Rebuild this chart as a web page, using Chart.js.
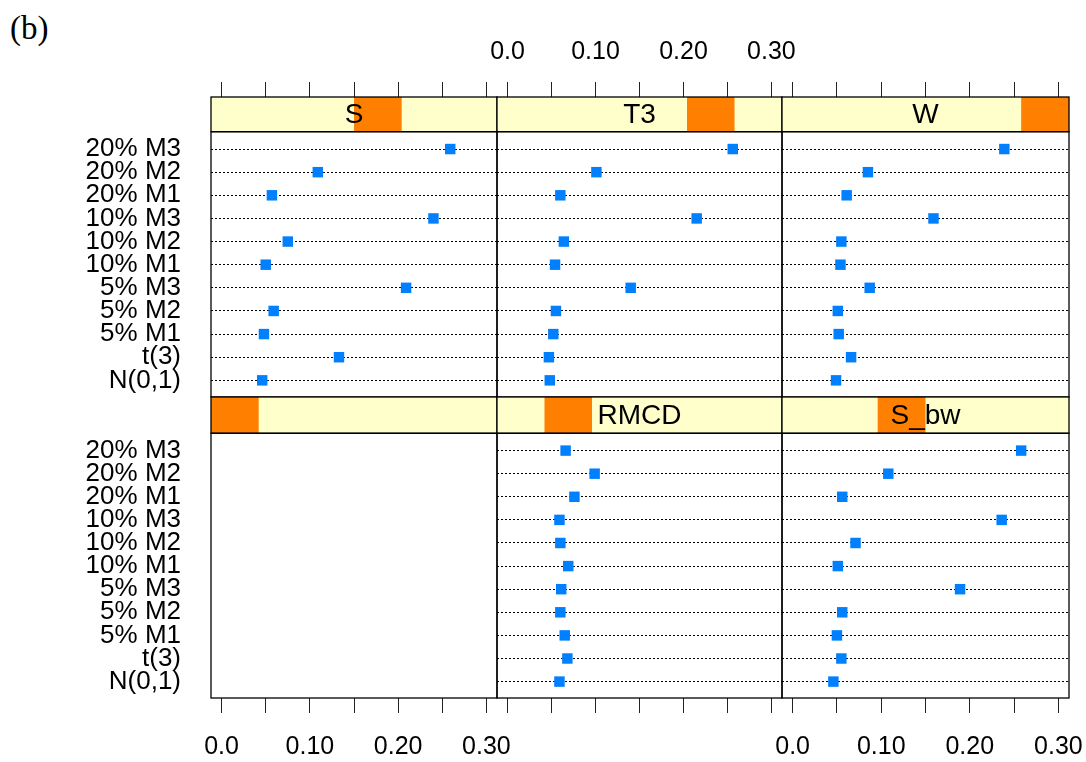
<!DOCTYPE html>
<html>
<head>
<meta charset="utf-8">
<script src="https://cdn.jsdelivr.net/npm/chart.js@4.4.1/dist/chart.umd.min.js"></script>
<style>
  html, body { margin: 0; padding: 0; background: #fff; }
  #wrap { position: relative; width: 1086px; height: 762px; overflow: hidden; }
  #wrap canvas { position: absolute; }
  #tag { position: absolute; left: 10px; top: 10px; line-height: 1; font: 33px "Liberation Serif", "DejaVu Serif", serif; }
</style>
</head>
<body>
<div id="wrap"><div id="tag">(b)</div></div>
<script>
// rows, bottom to top
const rowLabels = ['N(0,1)', 't(3)', '5% M1', '5% M2', '5% M3', '10% M1', '10% M2', '10% M3', '20% M1', '20% M2', '20% M3'];
// strip levels in lattice order (bottom-left first)
const stripLevels = ['', 'RMCD', 'S_bw', 'S', 'T3', 'W'];

const valS    = [0.046, 0.133, 0.048, 0.059, 0.209, 0.050, 0.075, 0.240, 0.057, 0.109, 0.259];
const valT3   = [0.048, 0.047, 0.052, 0.055, 0.140, 0.054, 0.064, 0.215, 0.060, 0.101, 0.256];
const valW    = [0.049, 0.066, 0.052, 0.051, 0.087, 0.054, 0.055, 0.159, 0.061, 0.085, 0.239];
const valRMCD = [0.059, 0.068, 0.065, 0.060, 0.061, 0.069, 0.060, 0.059, 0.076, 0.099, 0.066];
const valSbw  = [0.046, 0.055, 0.050, 0.056, 0.189, 0.051, 0.071, 0.236, 0.056, 0.108, 0.258];

const xTicks = [0, 0.05, 0.10, 0.15, 0.20, 0.25, 0.30];
const xTickLabels = ['0.0', '', '0.10', '', '0.20', '', '0.30'];

const FONT = '"Liberation Sans", Arial, sans-serif';
const PANEL_TOP = 11.75;   // y value where strip ends and panel begins

// panel layout (pixels)
const colLeft = [211, 497, 782];
const colRight = [497, 782, 1069];
const rowGeo = [
  { top: 0,   height: 399, pos: 'top',    axisH: 97, padT: 0, padB: 2, yMin: 0.28, yMax: 13.25, lblPad: 15 },
  { top: 395, height: 367, pos: 'bottom', axisH: 64, padT: 2, padB: 0, yMin: 0.29, yMax: 13.32, lblPad: 19 }
];

const panels = [
  { level: 3, values: valS,    row: 0, col: 0 },
  { level: 4, values: valT3,   row: 0, col: 1 },
  { level: 5, values: valW,    row: 0, col: 2 },
  { level: 0, values: null,    row: 1, col: 0 },
  { level: 1, values: valRMCD, row: 1, col: 1 },
  { level: 2, values: valSbw,  row: 1, col: 2 }
];

const stripPlugin = {
  id: 'strip',
  beforeDraw(chart, args, opts) {
    const { ctx, chartArea: a } = chart;
    const yTop = chart.scales.y.getPixelForValue(PANEL_TOP);
    const w = a.right - a.left;
    ctx.save();
    ctx.fillStyle = '#FFFFCC';
    ctx.fillRect(a.left, a.top, w, yTop - a.top);
    ctx.fillStyle = '#FF7F00';
    ctx.fillRect(a.left + w * opts.level / stripLevels.length, a.top, w / stripLevels.length, yTop - a.top);
    const label = stripLevels[opts.level];
    if (label) {
      ctx.fillStyle = '#000';
      ctx.font = '28px ' + FONT;
      ctx.textAlign = 'center';
      ctx.textBaseline = 'middle';
      ctx.fillText(label, (a.left + a.right) / 2, (a.top + yTop) / 2 + 1);
    }
    ctx.restore();
  },
  afterDraw(chart) {
    const { ctx, chartArea: a } = chart;
    const yTop = chart.scales.y.getPixelForValue(PANEL_TOP);
    ctx.save();
    ctx.strokeStyle = '#000';
    ctx.lineWidth = 1.3;
    ctx.strokeRect(a.left, a.top, a.right - a.left, yTop - a.top);
    ctx.strokeRect(a.left, yTop, a.right - a.left, a.bottom - yTop);
    ctx.restore();
  }
};

const wrap = document.getElementById('wrap');

panels.forEach(p => {
  const g = rowGeo[p.row];
  const padL = p.col === 0 ? colLeft[0] : 20;
  const padR = p.col === 2 ? 17 : 20;
  const width = padL + (colRight[p.col] - colLeft[p.col]) + padR;

  const canvas = document.createElement('canvas');
  canvas.width = width;
  canvas.height = g.height;
  canvas.style.left = (colLeft[p.col] - padL) + 'px';
  canvas.style.top = g.top + 'px';
  wrap.appendChild(canvas);

  const showX = p.row === 0 ? p.col === 1 : p.col !== 1;
  const points = p.values ? p.values.map((v, i) => ({ x: v, y: i + 1 })) : [];

  new Chart(canvas.getContext('2d'), {
    type: 'scatter',
    data: {
      datasets: [{
        data: points,
        pointStyle: 'rect',
        pointRadius: 7.4,
        pointHoverRadius: 7.4,
        backgroundColor: '#0080FF',
        borderWidth: 0
      }]
    },
    options: {
      responsive: false,
      animation: false,
      devicePixelRatio: 1,
      layout: { autoPadding: false, padding: { top: g.padT, bottom: g.padB, left: 0, right: padR } },
      plugins: {
        legend: { display: false },
        tooltip: { enabled: false },
        strip: { level: p.level }
      },
      scales: {
        x: {
          type: 'linear',
          position: g.pos,
          min: -0.012,
          max: 0.312,
          afterBuildTicks: s => { s.ticks = xTicks.map(v => ({ value: v })); },
          afterFit: s => { s.height = g.axisH; s.paddingLeft = 0; s.paddingRight = 0; },
          border: { display: false },
          grid: { drawOnChartArea: false, drawTicks: true, tickLength: 15, tickColor: '#222', tickWidth: 1 },
          ticks: {
            display: true,
            maxRotation: 0,
            autoSkip: false,
            padding: g.lblPad,
            color: '#000',
            font: { family: FONT, size: 25 },
            callback: (v, i) => showX ? xTickLabels[i] : ''
          }
        },
        y: {
          type: 'linear',
          position: 'left',
          min: g.yMin,
          max: g.yMax,
          afterBuildTicks: s => { s.ticks = rowLabels.map((_, i) => ({ value: i + 1 })); },
          afterFit: s => { s.width = padL; s.paddingTop = 0; s.paddingBottom = 0; },
          border: { display: false, dash: [2, 2] },
          grid: {
            display: true,
            drawOnChartArea: !!p.values,
            drawTicks: false,
            color: '#000',
            lineWidth: 1
          },
          ticks: {
            display: p.col === 0,
            autoSkip: false,
            padding: 30,
            color: '#000',
            font: { family: FONT, size: 26 },
            callback: (v, i) => rowLabels[i]
          }
        }
      }
    },
    plugins: [stripPlugin]
  });
});
</script>
</body>
</html>
